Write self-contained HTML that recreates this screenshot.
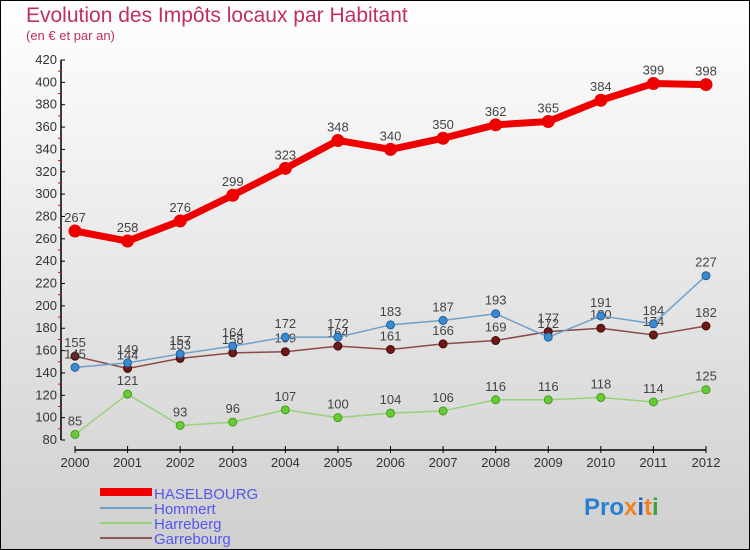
<!DOCTYPE html>
<html><head><meta charset="utf-8"><style>
body{margin:0}
svg{display:block;font-family:"Liberation Sans",sans-serif}
</style></head><body>
<svg width="750" height="550" xmlns="http://www.w3.org/2000/svg">
<defs><linearGradient id="bg" x1="0" y1="0" x2="0" y2="1"><stop offset="0" stop-color="#ffffff"/><stop offset="1" stop-color="#cfcfcf"/></linearGradient></defs>
<rect x="0.5" y="0.5" width="749" height="549" fill="url(#bg)" stroke="#000"/>
<text x="26" y="22" font-size="21" fill="#c0305a">Evolution des Impôts locaux par Habitant</text>
<text x="26" y="40" font-size="13" fill="#c0305a">(en € et par an)</text>
<g id="axes"></g>
<g id="series"></g>
<g>
<rect x="100" y="488" width="52" height="8" fill="#e00"/>
<text x="154" y="499" font-size="15" fill="#5555ee">HASELBOURG</text>
<line x1="100" y1="508" x2="152" y2="508" stroke="#6fa0c8" stroke-width="2"/>
<text x="154" y="514" font-size="15" fill="#5555ee">Hommert</text>
<line x1="100" y1="523" x2="152" y2="523" stroke="#99d07a" stroke-width="2"/>
<text x="154" y="529" font-size="15" fill="#5555ee">Harreberg</text>
<line x1="100" y1="538" x2="152" y2="538" stroke="#8a5a5a" stroke-width="2"/>
<text x="154" y="544" font-size="15" fill="#5555ee">Garrebourg</text>
</g>
<text x="584" y="515" font-size="24" font-weight="bold"><tspan fill="#2a7fd0">Pro</tspan><tspan fill="#f08020">x</tspan><tspan fill="#2a5fb0">i</tspan><tspan fill="#f08020">t</tspan><tspan fill="#40a040">i</tspan></text>
</svg>
<script>
const years=[2000,2001,2002,2003,2004,2005,2006,2007,2008,2009,2010,2011,2012];
const yTicks=[80,100,120,140,160,180,200,220,240,260,280,300,320,340,360,380,400,420];
const haselbourg=[267,258,276,299,323,348,340,350,362,365,384,399,398];
const hommert=[145,149,157,164,172,172,183,187,193,172,191,184,227];
const harreberg=[85,121,93,96,107,100,104,106,116,116,118,114,125];
const garrebourg=[155,144,153,158,159,164,161,166,169,177,180,174,182];
const NS='http://www.w3.org/2000/svg';
const X=i=>75+i*(706-75)/(years.length-1);
const Y=v=>440-(v-80)*(380/340);
function mk(t,a,p){const e=document.createElementNS(NS,t);for(const k in a)e.setAttribute(k,a[k]);p.appendChild(e);return e;}
const ax=document.getElementById('axes');
const yl=mk('line',{x1:61,y1:60,x2:61,y2:440,stroke:'#000','stroke-width':1.5},ax);


const xl=mk('line',{x1:75,y1:450,x2:706,y2:450,stroke:'#000','stroke-width':1.5},ax);


yTicks.forEach((v,i)=>{
 mk('line',{x1:61,y1:Y(v),x2:65,y2:Y(v),stroke:'#000'},ax);
 if(i<yTicks.length-1) mk('line',{x1:58,y1:Y(v+10),x2:61,y2:Y(v+10),stroke:'#e00'},ax);
 const t=mk('text',{x:57,y:Y(v)+4,'font-size':13,fill:'#333','text-anchor':'end'},ax);
 t.textContent=v;
 
 
});
years.forEach((y,i)=>{
 mk('line',{x1:X(i),y1:446,x2:X(i),y2:453,stroke:'#000'},ax);
 const t=mk('text',{x:X(i),y:467,'font-size':13,fill:'#333','text-anchor':'middle'},ax);
 t.textContent=y;
 
 
});
const sg=document.getElementById('series');
function series(data,name,color,fill,w,r,stroke){
 const g=mk('g',{},sg);
 
 
 const pl=mk('polyline',{points:data.map((v,i)=>X(i)+','+Y(v)).join(' '),fill:'none',stroke:color,'stroke-width':w,'stroke-linejoin':'round'},g);
 
 
 data.forEach((v,i)=>{
  const c=mk('circle',{cx:X(i),cy:Y(v),r:r,fill:fill,stroke:stroke,'stroke-width':1},g);
  
  
  const t=mk('text',{x:X(i),y:Y(v)-9,'font-size':13,fill:'#444','text-anchor':'middle'},g);
  t.textContent=v;
  
  
 });
}
series(harreberg,'harreberg','#99d07a','#66cc33',1.5,4,'#4a9a20');
series(garrebourg,'garrebourg','#8a4a4a','#6a1a1a',1.5,4,'#4a0a0a');
series(hommert,'hommert','#6fa0c8','#3a8ad0',1.5,4,'#20609a');
series(haselbourg,'haselbourg','#ee0000','#ee0000',7,6,'#ee0000');
</script>
</body></html>
